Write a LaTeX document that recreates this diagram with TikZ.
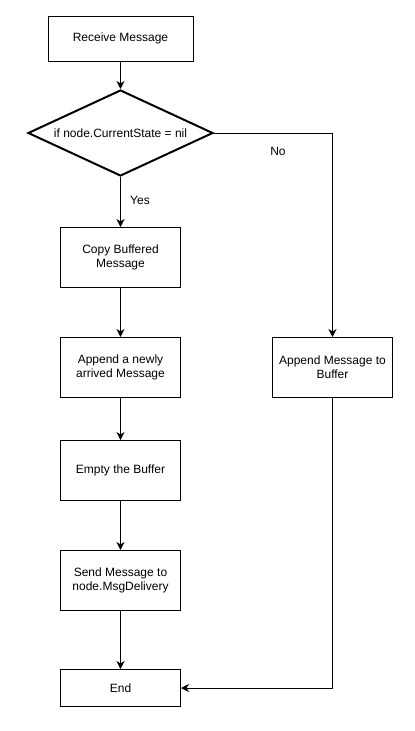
\documentclass[tikz,border=0pt]{standalone}
\usepackage{fontspec}
\setmainfont{Liberation Sans}
\usetikzlibrary{shapes.geometric,arrows.meta}
\begin{document}
\begin{tikzpicture}[x=1pt,y=-1pt,
  font=\fontsize{12}{14}\selectfont,
  box/.style={draw=black,line width=1pt,rectangle,minimum width=120pt,minimum height=60pt,inner sep=0pt,align=center},
  decision/.style={draw=black,line width=2pt,diamond,shape aspect=2.15,minimum width=185pt,minimum height=86pt,inner sep=0pt,align=center},
  conn/.style={draw=black,line width=1pt,-{Stealth[length=8pt,width=8pt,inset=2.5pt]}},
  lbl/.style={inner sep=0pt}]
\useasboundingbox (0,0) rectangle (415,731);
\fill[white] (0,0) rectangle (415,731);
\node[box,minimum width=145pt,minimum height=45pt] (recv) at (120.5,38.5) {Receive Message};
\node[decision] (dec) at (120.5,133) {if node.CurrentState = nil};
\node[box] (copy) at (120.5,257.5) {Copy Buffered\\Message};
\node[box] (app1) at (120.5,367.5) {Append a newly\\arrived Message};
\node[box] (app2) at (332.5,367.5) {Append Message to\\Buffer};
\node[box] (empty) at (120.5,470.5) {Empty the Buffer};
\node[box] (send) at (120.5,580.5) {Send Message to\\node.MsgDelivery};
\node[box,minimum height=37pt] (end) at (120.5,688) {End};
\draw[conn] (recv) -- (dec);
\draw[conn] (dec) -- (copy);
\draw[conn] (dec.east) -| (app2.north);
\draw[conn] (copy) -- (app1);
\draw[conn] (app1) -- (empty);
\draw[conn] (empty) -- (send);
\draw[conn] (send) -- (end);
\draw[conn] (app2.south) |- (end.east);
\node[lbl] (yes) at (140,200.5) {Yes};
\node[lbl] (no) at (278,151.5) {No};
\end{tikzpicture}
\end{document}
